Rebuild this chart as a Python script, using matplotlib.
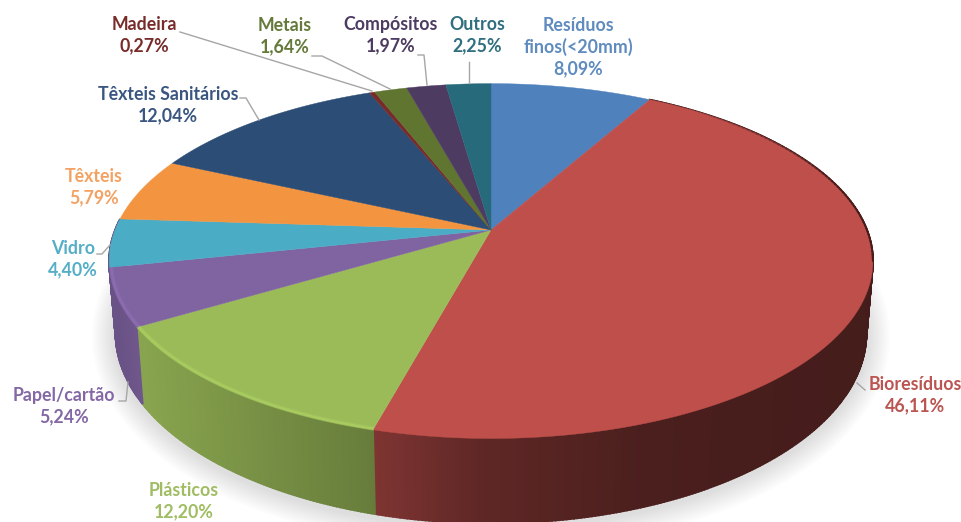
import numpy as np
import matplotlib
matplotlib.use('Agg')
import matplotlib.pyplot as plt
import matplotlib.colors as mcolors

labels = ['Resíduos\nfinos(<20mm)', 'Bioresíduos', 'Plásticos', 'Papel/cartão', 'Vidro', 'Têxteis',
          'Têxteis Sanitários', 'Madeira', 'Metais', 'Compósitos', 'Outros']
values = [8.09, 46.11, 12.20, 5.24, 4.40, 5.79, 12.04, 0.27, 1.64, 1.97, 2.25]
colors = ['#4f81bd', '#be4f4b', '#9bbb59', '#8064a2', '#4bacc6', '#f39540',
          '#2c4d75', '#772c2a', '#5f7530', '#4d3b62', '#276a7c']
text_colors = ['#5f8bbf', '#bb5552', '#a0bd63', '#8468a5', '#55aec7', '#f3a263',
               '#3a5680', '#772c2a', '#64793a', '#4d3b62', '#306f80']

# label centres and leader lines, in pixels of the picture
label_pos = [(578, 47), (915, 395), (184, 501), (64, 406), (73, 259), (94, 187),
             (168, 105), (144, 35), (285, 36), (391, 35), (477, 35)]
leaders = [None,
           [(865, 390), (857, 383)],
           None,
           [(119, 401), (126, 401), (128, 382)],
           [(97, 254), (102, 254), (110, 245)],
           None,
           [(240, 98), (246, 98), (259, 120)],
           [(180, 32), (372, 91)],
           [(312, 56), (322, 56), (390, 89)],
           [(418, 55), (424, 55), (427, 85)],
           [(469, 62), (469, 83)]]

# pie geometry: a disc seen in perspective
cx, cy = 491, 230
rx, ry = 376, 172
k = 0.175
depth = 70
bottom_scale = 0.983


def project(theta, r=1.0):
    px = r * np.sin(theta)
    py = r * np.cos(theta)
    w = 1 + k * py
    return cx + rx * px / w, cy - ry * py / w


def lower(theta):
    x, y = project(theta)
    w = 1 + k * np.cos(theta)
    return cx + (x - cx) * bottom_scale, y + depth / w


def shade(x):
    return np.interp(x, [115, 139, 377, 480, 650, 873], [.82, .88, .66, .5, .39, .36])


fig = plt.figure(figsize=(9.62, 5.22), dpi=100)
ax = fig.add_axes([0, 0, 1, 1])
ax.set_xlim(0, 962)
ax.set_ylim(522, 0)
ax.axis('off')

edges = np.concatenate([[0], np.cumsum(values)]) / np.sum(values) * 2 * np.pi

# soft shadow under the wall
t = np.linspace(np.radians(85), np.radians(275), 300)
xb, yb = lower(t)
for lw in range(34, 2, -3):
    ax.plot(xb, yb + 3, color='k', alpha=0.011, lw=lw, zorder=1, solid_capstyle='round')

# outer wall, only the slices that reach the front (vidro's wall shows as papel's colour)
for i in range(1, 5):
    n = max(int((edges[i + 1] - edges[i]) * 120), 2)
    t = np.linspace(edges[i], edges[i + 1], n + 1)
    base = np.array(mcolors.to_rgb(colors[3 if i == 4 else i]))
    for a, b in zip(t[:-1], t[1:]):
        xa, ya = project(a)
        xc, yc = project(b)
        xd, yd = lower(b)
        xe, ye = lower(a)
        col = base * shade((xa + xc) / 2)
        ax.fill([xa, xc, xd, xe], [ya, yc, yd, ye], color=col, lw=1.3, zorder=2)

# top face
for i in range(len(values)):
    t = np.linspace(edges[i], edges[i + 1], max(int((edges[i + 1] - edges[i]) * 120), 2))
    x, y = project(t)
    ax.fill(np.r_[cx, x], np.r_[cy, y], color=colors[i], lw=0.3, zorder=3)

# bevel along the front rim of plasticos and papel
for i in [2, 3]:
    t = np.linspace(edges[i], edges[i + 1], 60)
    x, y = project(t, 0.995)
    col = np.clip(np.array(mcolors.to_rgb(colors[i])) * 1.1, 0, 1)
    ax.plot(x, y, color=col, lw=3, alpha=0.4, zorder=4, solid_capstyle='butt')
    ax.plot(x, y, color=col, lw=1.5, alpha=0.8, zorder=4, solid_capstyle='butt')

# dark rim on the upper right
t = np.radians(np.linspace(38, 100, 60))
x, y = project(t)
for a, xa, ya, xc, yc in zip(t[:-1], x[:-1], y[:-1], x[1:], y[1:]):
    ax.plot([xa, xc], [ya, yc], color='#4a1c1c', lw=1.4, alpha=min(1, (a - t[0]) / (t[-1] - t[0]) * 1.5), zorder=4)

# leaders and labels
for i in range(len(labels)):
    if leaders[i] is not None:
        ax.plot(*zip(*leaders[i]), color='#a6a6a6', lw=1, zorder=5)
    txt = '%s\n%s%%' % (labels[i], ('%.2f' % values[i]).replace('.', ','))
    ax.text(label_pos[i][0], label_pos[i][1], txt, color=text_colors[i], family='Lato', weight='bold',
            fontsize=12.8, ha='center', va='center', linespacing=1.29, zorder=6)

fig.savefig('out.png', dpi=100)
